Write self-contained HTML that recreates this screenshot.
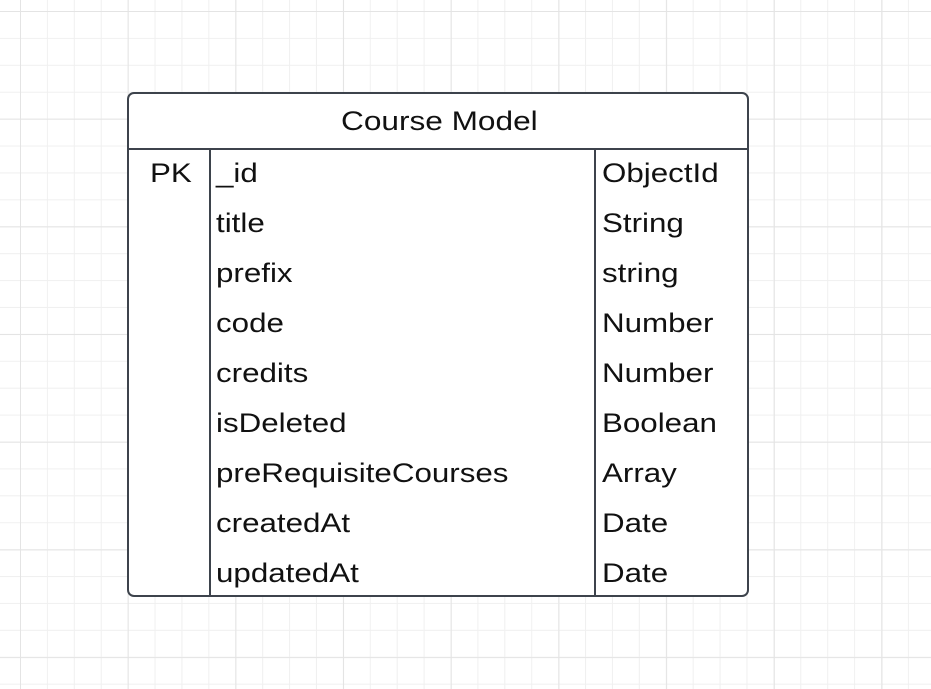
<!DOCTYPE html>
<html><head><style>
html,body{margin:0;padding:0}
body{width:931px;height:689px;position:relative;overflow:hidden;background-color:#fff;
background-image:
linear-gradient(to right,#e4e4e4 0,#e4e4e4 1px,transparent 1px),
linear-gradient(to bottom,#e4e4e4 0,#e4e4e4 1px,transparent 1px),
linear-gradient(to right,#f0f0f0 0,#f0f0f0 1px,transparent 1px),
linear-gradient(to bottom,#f0f0f0 0,#f0f0f0 1px,transparent 1px);
background-size:107.7px 107.7px,107.7px 107.7px,26.92px 26.92px,26.92px 26.92px;
background-position:20px 11px,20px 11px,20px 11px,20px 11px;
font-family:"Liberation Sans",Arial,sans-serif;color:#111;}
.box{position:absolute;left:127px;top:92px;width:618px;height:501px;border:2px solid #3d434c;border-radius:7px;background:#fff}
.hdr{position:absolute;left:0;top:0;width:618px;height:54px;border-bottom:2px solid #3d434c}
.hdr span{position:absolute;left:212px;top:12px;font-size:27px;line-height:30px;transform:scaleX(1.17);transform-origin:0 0;white-space:nowrap}
.v{position:absolute;top:56px;bottom:0;width:2px;background:#3d434c}
.t{position:absolute;font-size:27px;line-height:30px;white-space:nowrap;transform:scaleX(1.16);transform-origin:0 0}
</style></head><body>
<div class="box">
<div class="hdr"><span>Course Model</span></div>
<div class="v" style="left:80px"></div>
<div class="v" style="left:465px"></div>
<div class="t" style="left:21px;top:64px">PK</div>
<div class="t" style="left:87px;top:64px">_id</div><div class="t" style="left:473px;top:64px">ObjectId</div>
<div class="t" style="left:87px;top:114px">title</div><div class="t" style="left:473px;top:114px">String</div>
<div class="t" style="left:87px;top:164px">prefix</div><div class="t" style="left:473px;top:164px">string</div>
<div class="t" style="left:87px;top:214px">code</div><div class="t" style="left:473px;top:214px">Number</div>
<div class="t" style="left:87px;top:264px">credits</div><div class="t" style="left:473px;top:264px">Number</div>
<div class="t" style="left:87px;top:314px">isDeleted</div><div class="t" style="left:473px;top:314px">Boolean</div>
<div class="t" style="left:87px;top:364px">preRequisiteCourses</div><div class="t" style="left:473px;top:364px">Array</div>
<div class="t" style="left:87px;top:414px">createdAt</div><div class="t" style="left:473px;top:414px">Date</div>
<div class="t" style="left:87px;top:464px">updatedAt</div><div class="t" style="left:473px;top:464px">Date</div>
</div>
</body></html>
